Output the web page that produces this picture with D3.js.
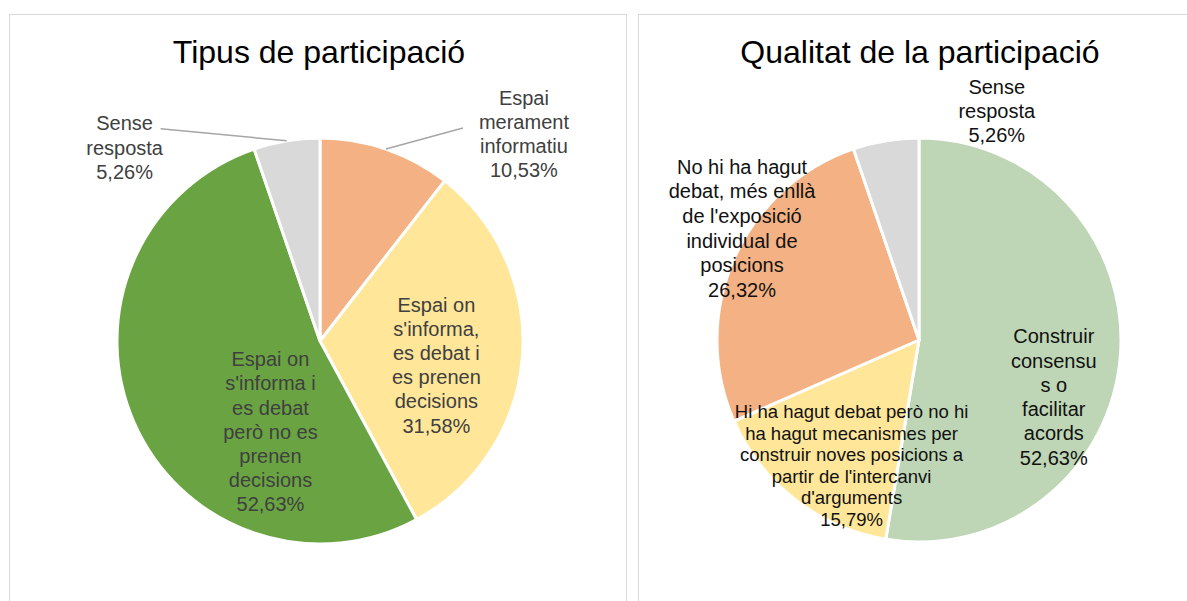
<!DOCTYPE html>
<html>
<head>
<meta charset="utf-8">
<script src="https://cdn.jsdelivr.net/npm/d3@7"></script>
<style>
  html, body { margin: 0; padding: 0; background: #fff; }
  svg { display: block; font-family: "Liberation Sans", Arial, sans-serif; }
</style>
</head>
<body>
<svg id="chart" width="1187" height="601"></svg>
<script>
// data
const leftTitle = 'Tipus de participació';
const leftCategories = [
  'Espai merament informatiu',
  "Espai on s'informa, es debat i es prenen decisions",
  "Espai on s'informa i es debat però no es prenen decisions",
  'Sense resposta'
];
const leftValues = [10.53, 31.58, 52.63, 5.26];
const leftLabelLines = [
  ['Espai', 'merament', 'informatiu', '10,53%'],
  ['Espai on', "s'informa,", 'es debat i', 'es prenen', 'decisions', '31,58%'],
  ['Espai on', "s'informa i", 'es debat', 'però no es', 'prenen', 'decisions', '52,63%'],
  ['Sense', 'resposta', '5,26%']
];

const rightTitle = 'Qualitat de la participació';
const rightCategories = [
  'Construir consensus o facilitar acords',
  "Hi ha hagut debat però no hi ha hagut mecanismes per construir noves posicions a partir de l'intercanvi d'arguments",
  "No hi ha hagut debat, més enllà de l'exposició individual de posicions",
  'Sense resposta'
];
const rightValues = [52.63, 15.79, 26.32, 5.26];
const rightLabelLines = [
  ['Construir', 'consensu', 's o', 'facilitar', 'acords', '52,63%'],
  ['Hi ha hagut debat però no hi', 'ha hagut mecanismes per', 'construir noves posicions a', "partir de l'intercanvi", "d'arguments", '15,79%'],
  ['No hi ha hagut', 'debat, més enllà', "de l'exposició", 'individual de', 'posicions', '26,32%'],
  ['Sense', 'resposta', '5,26%']
];

// layout / styling
const svg = d3.select('#chart');

// panel frames
svg.append('rect').attr('x', 9.5).attr('y', 14.5).attr('width', 617).attr('height', 600)
  .attr('fill', 'none').attr('stroke', '#d9d9d9').attr('stroke-width', 1);
svg.append('rect').attr('x', 638.5).attr('y', 14.5).attr('width', 600).attr('height', 600)
  .attr('fill', 'none').attr('stroke', '#d9d9d9').attr('stroke-width', 1);

const charts = [
  {
    title: leftTitle, categories: leftCategories, values: leftValues, lines: leftLabelLines,
    cx: 320, cy: 341, r: 203, titleX: 319, titleY: 63,
    colors: ['#f4b183', '#ffe699', '#6aa442', '#d9d9d9'],
    textColor: '#404040',
    // label placement: nudge from centroid, outside labels use leader lines
    place: [
      { outside: true, dx: 138, dy: -15, leader: [-61, -6], size: 20, lh: 23.8 },
      { dx: -5, dy: 14, size: 20, lh: 24.2 },
      { dx: 62, dy: 42, size: 20, lh: 24.2 },
      { outside: true, dx: -162, dy: 7, leader: [36, -19], size: 20, lh: 24.5 }
    ]
  },
  {
    title: rightTitle, categories: rightCategories, values: rightValues, lines: rightLabelLines,
    cx: 919, cy: 340, r: 202, titleX: 920, titleY: 63,
    colors: ['#bed6b5', '#ffe699', '#f4b183', '#d9d9d9'],
    textColor: '#111111',
    place: [
      { dx: 14, dy: 47, size: 20, lh: 24.3 },
      { dx: 7, dy: 30, size: 18.5, lh: 21.5 },
      { dx: -66, dy: -63, size: 20, lh: 24.7 },
      { outside: true, dx: 111, dy: -30, size: 20, lh: 23.8 }
    ]
  }
];

charts.forEach(c => {
  const g = svg.append('g').attr('transform', `translate(${c.cx},${c.cy})`);

  svg.append('text')
    .attr('x', c.titleX).attr('y', c.titleY)
    .attr('text-anchor', 'middle')
    .attr('font-size', 32)
    .attr('fill', '#000')
    .text(c.title);

  const color = d3.scaleOrdinal().domain(c.categories).range(c.colors);
  const pie = d3.pie().sort(null).value(d => d.value);
  const arcs = pie(c.categories.map((k, i) => ({ key: k, value: c.values[i], lines: c.lines[i], place: c.place[i] })));

  const arc = d3.arc().innerRadius(0).outerRadius(c.r);
  const labelArc = d3.arc().innerRadius(c.r * 0.6).outerRadius(c.r * 0.6);
  const edgeArc = d3.arc().innerRadius(c.r).outerRadius(c.r);

  g.selectAll('path.slice')
    .data(arcs)
    .join('path')
      .attr('class', 'slice')
      .attr('d', arc)
      .attr('fill', d => color(d.data.key))
      .attr('stroke', '#fff')
      .attr('stroke-width', 3)
      .attr('stroke-linejoin', 'round');

  arcs.forEach(d => {
    const p = d.data.place;
    const base = p.outside ? edgeArc.centroid(d) : labelArc.centroid(d);
    const lx = base[0] + p.dx;
    const ly = base[1] + p.dy;

    if (p.leader) {
      g.append('line')
        .attr('x1', base[0]).attr('y1', base[1])
        .attr('x2', lx + p.leader[0]).attr('y2', ly + p.leader[1])
        .attr('stroke', '#a6a6a6').attr('stroke-width', 1.5);
    }

    const n = d.data.lines.length;
    const firstBase = ly - (n - 1) * p.lh / 2 + p.size * 0.35;
    const t = g.append('text')
      .attr('text-anchor', 'middle')
      .attr('font-size', p.size)
      .attr('fill', c.textColor);
    d.data.lines.forEach((line, i) => {
      t.append('tspan')
        .attr('x', lx)
        .attr('y', firstBase + i * p.lh)
        .text(line);
    });
  });
});
</script>
</body>
</html>
